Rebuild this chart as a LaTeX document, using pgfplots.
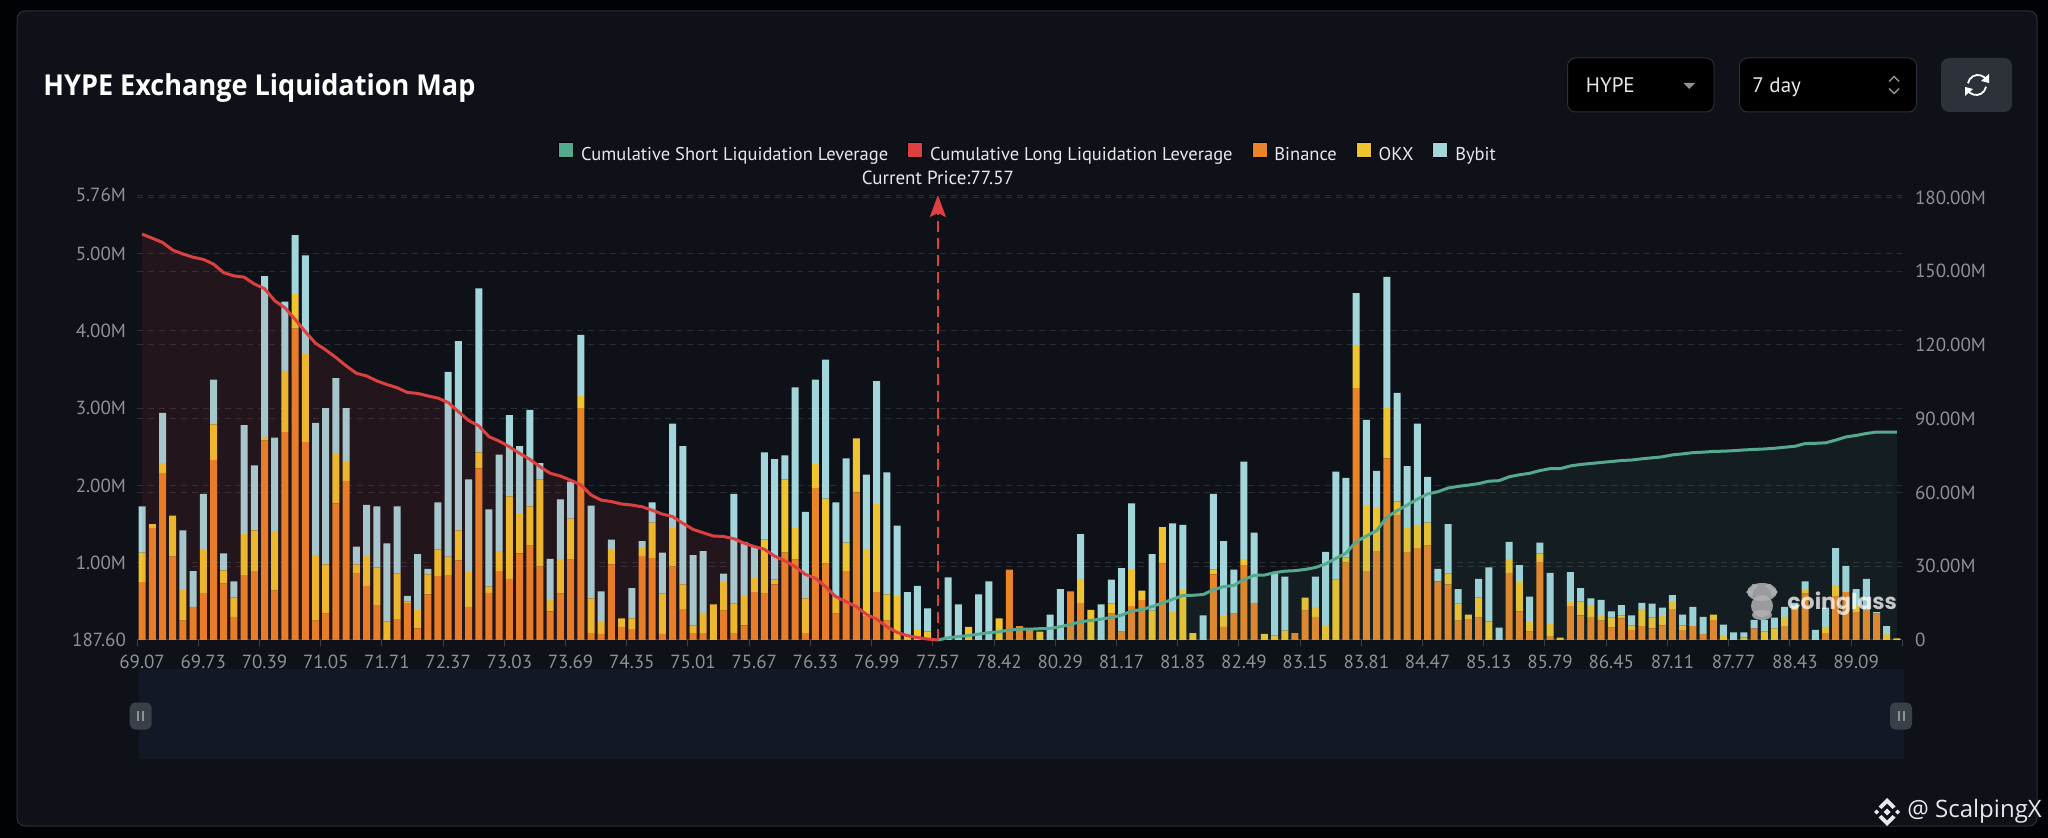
\documentclass[border=0pt]{standalone}
\usepackage{fontspec}
\setmainfont{PT Sans}
\newfontfamily\titlefont{Open Sans}
\newfontfamily\headfont[FakeStretch=.94]{Open Sans}
\newfontfamily\wmfont{Poppins}
\usepackage{pgfplots}
\usepackage{pgfplotstable}
\pgfplotsset{compat=1.18}
\usetikzlibrary{arrows.meta}

\definecolor{pagebg}{HTML}{010205}
\definecolor{panel}{HTML}{0E1118}
\definecolor{panelline}{HTML}{2C2F36}
\definecolor{gridc}{HTML}{2A2D32}
\definecolor{tickc}{HTML}{8E9196}
\definecolor{axisc}{HTML}{3C3F45}
\definecolor{legtext}{HTML}{E6E8EB}
\definecolor{cbin}{HTML}{E98527}
\definecolor{cokx}{HTML}{F0C42E}
\definecolor{cbyb}{HTML}{A2D6DB}
\definecolor{cshort}{HTML}{55A98F}
\definecolor{clong}{HTML}{DC4040}
\definecolor{slider}{HTML}{121826}
\definecolor{handle}{HTML}{3A4048}

% k, Binance, OKX, Bybit (millions)
\pgfplotstableread{
k bin okx byb
0 .75 .38 .60
1 1.45 .05 0
2 2.16 .13 .65
3 1.08 .53 0
4 .25 .41 .76
5 .43 0 .46
6 .61 .57 .71
7 2.33 .46 .58
8 .73 .17 .22
9 .30 .25 .21
10 .84 .53 1.41
11 .89 .53 .84
12 2.58 .05 2.08
13 .64 .77 1.21
14 2.69 .79 .90
15 4.03 .45 .76
16 2.56 1.14 1.28
17 .25 .85 1.71
18 .34 .64 2.02
19 1.77 .65 .97
20 2.06 .26 .68
21 .87 .11 .23
22 .70 .39 .66
23 .45 .49 .79
24 0 .24 1.01
25 .27 .59 .87
26 .48 .02 .07
27 .15 .24 .72
28 .59 .26 .07
29 .83 .34 .61
30 .84 .24 2.39
31 1.03 .39 2.45
32 .43 .45 1.20
33 2.22 .21 2.12
34 .61 .08 1.00
35 .89 .26 1.25
36 .79 1.07 1.05
37 1.12 .51 .88
38 1.22 .51 1.25
39 .95 1.13 .21
40 .37 .15 .53
41 .60 .45 .77
42 1.04 .53 .48
43 3.00 .16 .79
44 .09 .45 1.20
45 .08 .15 .40
46 .98 .20 .12
47 .17 .11 0
48 .14 .14 .39
49 1.09 .10 .09
50 1.06 .46 .26
51 .08 .52 .53
52 .95 .50 1.35
53 .40 .32 1.79
54 .09 .10 .91
55 .09 .26 .80
56 0 .46 0
57 .38 .37 .11
58 .09 .38 1.42
59 .19 .38 .70
60 .62 .18 .41
61 .61 .69 1.13
62 .72 .06 1.56
63 1.13 .95 .31
64 1.04 .41 1.82
65 .09 .45 1.12
66 1.97 .31 1.09
67 .99 .84 1.80
68 .34 .22 1.22
69 .89 .37 1.09
70 1.91 .70 0
71 .31 .87 .96
72 .62 1.14 1.59
73 .25 .34 1.58
74 0 .57 .91
75 0 .05 .57
76 0 .13 .57
77 0 .11 .30
78 0 0 0
79 0 0 .81
80 0 0 .46
81 0 .17 0
82 0 0 .59
83 0 0 .76
84 0 .28 0
85 .91 0 0
86 .18 0 0
87 .15 0 0
88 0 .11 0
89 0 0 .33
90 0 0 .66
91 .63 0 0
92 .48 .31 .58
93 0 .39 0
94 0 0 .46
95 .34 .13 .31
96 .11 0 .82
97 .44 .48 .85
98 .52 .12 0
99 0 .38 .73
100 .99 .47 0
101 0 .36 1.15
102 0 .65 .84
103 0 .09 0
104 0 0 .32
105 .85 .06 .98
106 .17 .14 .97
107 .34 0 .57
108 .97 .08 1.26
109 .48 0 .91
110 0 .08 0
111 0 .06 .82
112 0 .12 .70
113 .09 0 0
114 .38 .17 0
115 .30 .13 .39
116 0 .18 .96
117 0 .78 1.40
118 1.00 .07 1.03
119 3.26 .56 .67
120 .89 .86 1.10
121 1.15 .57 .47
122 2.35 .65 1.70
123 1.62 .17 1.41
124 1.14 .31 .80
125 1.19 .30 1.31
126 1.22 .30 .59
127 .76 0 .16
128 .72 .14 .64
129 .25 .22 .19
130 .27 .06 0
131 .29 .26 .24
132 0 .24 .70
133 0 0 .16
134 .87 .18 .22
135 .37 .38 .22
136 .11 .12 .33
137 1.01 .11 .14
138 .05 .16 .66
139 0 .03 0
140 .44 .05 .39
141 .32 .18 .17
142 .30 .15 .09
143 .25 .06 .21
144 .16 .13 .08
145 .28 .04 .13
146 .13 .06 .13
147 .18 .22 .08
148 .15 .14 .18
149 .19 .12 .11
150 .40 .09 .09
151 .13 .06 .14
152 .18 0 .25
153 .08 0 .22
154 .26 .07 0
155 0 .05 .15
156 0 0 .10
157 0 .03 .07
158 .15 0 .11
159 0 .11 .15
160 0 .15 .14
161 .18 .12 .13
162 .39 .04 .05
163 .60 .06 .10
164 0 0 .13
165 .09 .08 .25
166 .57 .14 .48
167 .62 0 .34
168 .36 .08 .22
169 .39 0 .40
170 .34 0 .02
171 0 .08 .10
172 0 .02 0
}\bars

% cumulative long leverage (millions, right axis)
\pgfplotstableread{
k v
0 165.1
1 163.4
2 161.7
3 158.6
4 157.0
5 155.7
6 154.8
7 152.9
8 149.4
9 148.1
10 147.6
11 144.8
12 142.9
13 138.0
14 135.1
15 130.4
16 125.4
17 120.7
18 118.0
19 114.9
20 111.5
21 108.5
22 107.4
23 105.4
24 103.9
25 102.6
26 100.7
27 100.3
28 99.3
29 98.4
30 96.6
31 92.9
32 89.3
33 87.1
34 82.7
35 80.9
36 78.6
37 75.9
38 73.5
39 70.5
40 67.8
41 66.7
42 65.0
43 63.1
44 59.0
45 56.9
46 56.3
47 55.3
48 54.9
49 54.2
50 52.8
51 51.2
52 50.2
53 47.5
54 45.0
55 43.6
56 42.3
57 42.1
58 41.2
59 39.4
60 38.0
61 36.9
62 34.1
63 32.2
64 29.9
65 26.7
66 25.1
67 21.7
68 17.6
69 15.6
70 13.6
71 10.4
72 8.5
73 5.4
74 3.1
75 1.8
76 1.0
77 .4
78 0
}\longlev

% cumulative short leverage (millions, right axis)
\pgfplotstableread{
k v
78 0
79 .9
80 1.4
81 1.8
82 2.4
83 3.0
84 3.3
85 4.1
86 4.4
87 4.4
88 4.6
89 4.7
90 5.4
91 6.4
92 7.4
93 8.0
94 8.5
95 9.2
96 10.1
97 11.8
98 12.4
99 13.6
100 15.1
101 16.5
102 18.1
103 18.2
104 18.5
105 20.4
106 21.7
107 22.2
108 24.6
109 26.3
110 26.4
111 27.4
112 28.0
113 28.2
114 28.7
115 29.5
116 30.9
117 33.2
118 35.3
119 40.0
120 42.3
121 44.5
122 49.9
123 52.6
124 54.9
125 57.3
126 59.4
127 60.3
128 61.8
129 62.5
130 63.0
131 63.6
132 64.6
133 64.8
134 66.4
135 67.2
136 67.8
137 68.9
138 69.7
139 69.7
140 70.8
141 71.4
142 71.8
143 72.2
144 72.6
145 73.0
146 73.2
147 73.7
148 74.1
149 74.5
150 75.3
151 75.7
152 76.2
153 76.4
154 76.7
155 76.8
156 77.0
157 77.3
158 77.5
159 77.7
160 78.0
161 78.4
162 78.8
163 79.9
164 80.0
165 80.2
166 81.3
167 82.6
168 83.2
169 84.0
170 84.6
171 84.6
172 84.6
}\shortlev

\pgfplotsset{
  liqaxis/.style={
    at={(68.5pt,-320pt)}, anchor=south west,
    scale only axis, width=882.5pt, height=222.5pt,
    xmin=-0.5, xmax=172.5,
    every tick label/.append style={font=\fontsize{9.5}{11}\selectfont, text=tickc},
    grid style={gridc, line width=.5pt, dash pattern=on 3pt off 2.5pt},
  },
}

\begin{document}
\begin{tikzpicture}[x=.5pt,y=-.5pt]
\path[use as bounding box] (0,0) rectangle (2048,838);
\fill[pagebg] (0,0) rectangle (2048,838);
\path[fill=panel, draw=panelline, line width=.5pt, rounded corners=4pt] (17,11) rectangle (2037,826);

% header
\node[anchor=base west, inner sep=0pt, text=white, font=\headfont\bfseries\fontsize{14.4}{16}\selectfont] at (43,96) {HYPE Exchange Liquidation Map};
\path[fill=black, draw=panelline, line width=.5pt, rounded corners=4pt] (1567.5,58) rectangle (1714,112);
\path[fill=black, draw=panelline, line width=.5pt, rounded corners=4pt] (1739.5,58) rectangle (1916.5,112);
\fill[handle!70!panel, rounded corners=4pt] (1941,58) rectangle (2012,112);
\node[anchor=base west, inner sep=0pt, text=legtext, font=\fontsize{10.5}{12}\selectfont] at (1585.5,92.5) {HYPE};
\node[anchor=base west, inner sep=0pt, text=legtext, font=\fontsize{10.5}{12}\selectfont] at (1752,92.5) {7 day};
\fill[tickc] (1683.5,83) -- (1695,83) -- (1689.2,89) -- cycle;
\draw[tickc, line width=.7pt] (1889,81.5) -- (1894,76.5) -- (1899,81.5) (1889,88.5) -- (1894,93.5) -- (1899,88.5);
\draw[white, line width=.9pt] (1986.5,80) arc[start angle=-30, end angle=-170, radius=10];
\draw[white, line width=.9pt] (1967.5,90) arc[start angle=150, end angle=10, radius=10];
\fill[white] (1989,74) -- (1989,83) -- (1981,81) -- cycle;
\fill[white] (1965,96) -- (1965,87) -- (1973,89) -- cycle;

% data zoom strip
\fill[slider] (139,669) rectangle (1903.5,759);
\foreach \hx in {140.7,1901}{
  \fill[handle, rounded corners=3pt] (\hx-11,702.5) rectangle (\hx+11,729.5);
  \fill[tickc] (\hx-3.5,711) rectangle (\hx-1.5,721);
  \fill[tickc] (\hx+1.5,711) rectangle (\hx+3.5,721);
}

% right axis scale and its grid
\begin{axis}[liqaxis,
  ymin=0, ymax=181,
  axis y line*=right, axis x line=none,
  ytick={0,30,60,90,120,150,180},
  yticklabels={0,30.00M,60.00M,90.00M,120.00M,150.00M,180.00M},
  ymajorgrids, y axis line style={draw=none}, ytick style={draw=none},
  yticklabel style={anchor=west, xshift=3pt},
]
\end{axis}

% stacked bars, left axis
\begin{axis}[liqaxis,
  ybar stacked, bar width=3.5pt,
  ymin=0, ymax=5.76,
  axis y line*=left, axis x line*=bottom,
  ytick={0,1,2,3,4,5,5.76},
  yticklabels={187.60,1.00M,2.00M,3.00M,4.00M,5.00M,5.76M},
  ymajorgrids, y axis line style={draw=none}, ytick style={draw=none},
  yticklabel style={anchor=east, xshift=1pt},
  x axis line style={axisc, line width=.5pt},
  xtick={-0.5,5.5,...,167.5,172.5},
  xticklabels={69.07,69.73,70.39,71.05,71.71,72.37,73.03,73.69,74.35,75.01,75.67,76.33,76.99,77.57,78.42,80.29,81.17,81.83,82.49,83.15,83.81,84.47,85.13,85.79,86.45,87.11,87.77,88.43,89.09,{}},
  xticklabel style={xshift=2.55pt, yshift=-1pt},
  tick align=outside, major tick length=3pt, xtick style={axisc, line width=.5pt},
]
\addplot[fill=cbin, draw=none] table[x=k, y=bin] {\bars};
\addplot[fill=cokx, draw=none] table[x=k, y=okx] {\bars};
\addplot[fill=cbyb, draw=none] table[x=k, y=byb] {\bars};
\end{axis}

% cumulative lines over the bars, price marker, legend
\begin{axis}[liqaxis,
  ymin=0, ymax=181, hide axis, clip=false,
  legend columns=5,
  legend style={at={(.2385,1.094)}, anchor=west, draw=none, fill=none, inner sep=0pt,
    nodes={inner sep=0pt, text=legtext, font=\fontsize{9.25}{11}\selectfont},
    /tikz/every odd column/.append style={column sep=3.5pt},
    /tikz/every even column/.append style={column sep=9.5pt},
  },
  legend image code/.code={\fill[#1] (0pt,-1pt) rectangle (7.5pt,6.5pt);},
]
\addplot[forget plot, fill=clong, fill opacity=.1, draw=none] table[x=k, y=v] {\longlev} \closedcycle;
\addplot[forget plot, fill=cshort, fill opacity=.09, draw=none] table[x=k, y=v] {\shortlev} \closedcycle;
\addplot[forget plot, clong, line width=1.5pt, line join=round] table[x=k, y=v] {\longlev};
\addplot[forget plot, cshort, line width=1.5pt, line join=round] table[x=k, y=v] {\shortlev};
\addplot[forget plot, clong, line width=1.3pt, dash pattern=on 5.5pt off 3pt,
  -{Stealth[length=11pt, width=8pt, inset=2pt]}] coordinates {(78,0) (78,181)};
\node[anchor=south, inner sep=0pt, yshift=5pt, text=legtext, font=\fontsize{9.5}{11}\selectfont] at (axis cs:78,181) {Current Price:77.57};
\addlegendimage{fill=cshort}\addlegendentry{Cumulative Short Liquidation Leverage}
\addlegendimage{fill=clong}\addlegendentry{Cumulative Long Liquidation Leverage}
\addlegendimage{fill=cbin}\addlegendentry{Binance}
\addlegendimage{fill=cokx}\addlegendentry{OKX}
\addlegendimage{fill=cbyb}\addlegendentry{Bybit}
\end{axis}

% coinglass watermark
\begin{scope}[fill=gray!60!white, fill opacity=.85]
\fill (1762,592) ellipse[x radius=15, y radius=9];
\fill (1746,592) -- (1754,586) -- (1752,597) -- cycle;
\fill (1778,592) -- (1770,586) -- (1772,597) -- cycle;
\fill (1752,584) -- (1758,585) -- (1754,590) -- cycle;
\fill (1771,584) -- (1765,585) -- (1769,590) -- cycle;
\fill (1762,606) ellipse[x radius=11, y radius=11];
\fill (1762,615) ellipse[x radius=10, y radius=5];
\end{scope}
\node[anchor=west, inner sep=0pt, text=white, opacity=.75, font=\wmfont\bfseries\fontsize{11}{13}\selectfont] at (1787,604) {coinglass};

% reposter mark
\begin{scope}[shift={(1887,812)}, fill=legtext]
\fill (0,-3.5) -- (3.5,0) -- (0,3.5) -- (-3.5,0) -- cycle;
\fill (-10.5,-2.5) -- (-8,0) -- (-10.5,2.5) -- (-13,0) -- cycle;
\fill (10.5,-2.5) -- (8,0) -- (10.5,2.5) -- (13,0) -- cycle;
\fill (0,-14) -- (8.5,-5.5) -- (5.5,-3) -- (0,-8.5) -- (-5.5,-3) -- (-8.5,-5.5) -- cycle;
\fill (0,14) -- (8.5,5.5) -- (5.5,3) -- (0,8.5) -- (-5.5,3) -- (-8.5,5.5) -- cycle;
\end{scope}
\node[anchor=west, inner sep=0pt, text=legtext, font=\titlefont\fontsize{12}{14}\selectfont] at (1907,811) {@ ScalpingX};
\end{tikzpicture}
\end{document}
